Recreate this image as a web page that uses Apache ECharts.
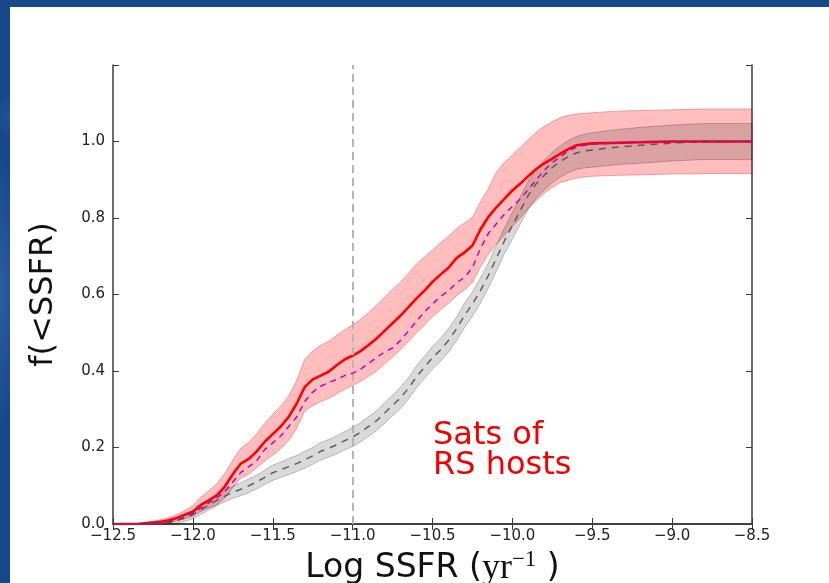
<!DOCTYPE html>
<html>
<head>
<meta charset="utf-8">
<script src="https://cdn.jsdelivr.net/npm/echarts@6/dist/echarts.min.js"></script>
<style>
  html, body { margin: 0; padding: 0; width: 829px; height: 583px; overflow: hidden; }
  body {
    position: relative;
    background:
      radial-gradient(ellipse 120px 40px at 8% 20%, rgba(90,140,210,0.45), transparent 70%),
      radial-gradient(ellipse 160px 50px at 35% 60%, rgba(20,50,110,0.6), transparent 70%),
      radial-gradient(ellipse 140px 40px at 62% 30%, rgba(80,130,200,0.4), transparent 70%),
      radial-gradient(ellipse 180px 60px at 88% 70%, rgba(15,45,100,0.55), transparent 70%),
      radial-gradient(ellipse 30px 200px at 0% 50%, rgba(70,120,190,0.45), transparent 70%),
      #17488a;
  }
  #panel { position: absolute; left: 10px; top: 7px; right: 0; bottom: 0; background: #ffffff; }
  #chart { position: absolute; left: 0; top: 0; width: 829px; height: 583px; }
</style>
</head>
<body>
<div id="panel"></div>
<div id="chart"></div>
<script>
// Cumulative fraction of galaxies below a given specific star-formation rate.
const logSSFR = [
  -12.5, -12.45, -12.4, -12.35, -12.3, -12.25, -12.2, -12.15, -12.1, -12.05,
  -12.0, -11.95, -11.9, -11.85, -11.8, -11.75, -11.7, -11.65, -11.6, -11.55,
  -11.5, -11.45, -11.4, -11.35, -11.3, -11.25, -11.2, -11.15, -11.1, -11.05,
  -11.0, -10.95, -10.9, -10.85, -10.8, -10.75, -10.7, -10.65, -10.6, -10.55,
  -10.5, -10.45, -10.4, -10.35, -10.3, -10.25, -10.2, -10.15, -10.1, -10.05,
  -10.0, -9.95, -9.9, -9.85, -9.8, -9.75, -9.7, -9.65, -9.6, -9.55,
  -9.5, -9.4, -9.3, -9.2, -9.1, -9.0, -8.9, -8.8, -8.7, -8.6, -8.5
];

// Satellites of red-sequence hosts (solid red) with its uncertainty band
const satsRS = [
  0, 0, 0, 0, 0.002, 0.004, 0.006, 0.01, 0.016, 0.024,
  0.032, 0.05, 0.062, 0.075, 0.098, 0.13, 0.158, 0.17, 0.19, 0.215,
  0.235, 0.255, 0.28, 0.315, 0.358, 0.378, 0.388, 0.398, 0.415, 0.43,
  0.44, 0.452, 0.468, 0.485, 0.505, 0.525, 0.545, 0.567, 0.59, 0.61,
  0.633, 0.652, 0.67, 0.695, 0.71, 0.728, 0.77, 0.803, 0.828, 0.85,
  0.872, 0.89, 0.91, 0.928, 0.943, 0.955, 0.968, 0.98, 0.99, 0.993,
  0.995, 0.996, 0.997, 0.998, 0.999, 1, 1, 1, 1, 1, 1
];
const satsRSHigh = [
  0, 0, 0, 0, 0.004, 0.007, 0.011, 0.017, 0.025, 0.035,
  0.048, 0.07, 0.087, 0.105, 0.132, 0.167, 0.198, 0.213, 0.236, 0.263,
  0.287, 0.308, 0.335, 0.375, 0.43, 0.452, 0.467, 0.478, 0.493, 0.508,
  0.52, 0.535, 0.553, 0.572, 0.593, 0.613, 0.633, 0.655, 0.68, 0.699,
  0.716, 0.735, 0.752, 0.772, 0.787, 0.802, 0.842, 0.877, 0.92, 0.945,
  0.965, 0.985, 1.005, 1.025, 1.04, 1.052, 1.062, 1.068, 1.072, 1.074,
  1.075, 1.078, 1.08, 1.081, 1.082, 1.083, 1.084, 1.085, 1.085, 1.085, 1.085
];
const satsRSLow = [
  0, 0, 0, 0, 0, 0.001, 0.002, 0.004, 0.008, 0.014,
  0.02, 0.033, 0.042, 0.05, 0.068, 0.095, 0.12, 0.13, 0.147, 0.165,
  0.18, 0.197, 0.218, 0.25, 0.295, 0.31, 0.32, 0.328, 0.34, 0.352,
  0.362, 0.373, 0.386, 0.4, 0.418, 0.436, 0.456, 0.477, 0.5, 0.52,
  0.542, 0.56, 0.577, 0.597, 0.612, 0.632, 0.672, 0.705, 0.732, 0.755,
  0.778, 0.8, 0.825, 0.846, 0.865, 0.88, 0.893, 0.899, 0.904, 0.907,
  0.909, 0.911, 0.912, 0.913, 0.914, 0.915, 0.915, 0.916, 0.916, 0.916, 0.916
];

// Comparison sample (magenta dashed)
const satsMatched = [
  0, 0, 0, 0, 0, 0, 0, 0.005, 0.01, 0.018,
  0.028, 0.042, 0.055, 0.068, 0.085, 0.11, 0.135, 0.15, 0.165, 0.195,
  0.212, 0.23, 0.255, 0.28, 0.32, 0.345, 0.36, 0.37, 0.378, 0.388,
  0.394, 0.405, 0.42, 0.435, 0.45, 0.46, 0.48, 0.505, 0.53, 0.555,
  0.575, 0.595, 0.61, 0.63, 0.645, 0.67, 0.72, 0.76, 0.785, 0.81,
  0.83, 0.85, 0.875, 0.9, 0.925, 0.945, 0.96, 0.975, 0.985, 0.99,
  0.993, 0.995, 0.997, 0.998, 0.999, 1, 1, 1, 1, 1, 1
];

// Reference sample (grey dashed) with its uncertainty band
const refSample = [
  0, 0, 0, 0, 0, 0.001, 0.002, 0.004, 0.009, 0.016,
  0.025, 0.037, 0.05, 0.062, 0.073, 0.083, 0.091, 0.1, 0.11, 0.122,
  0.134, 0.142, 0.15, 0.158, 0.168, 0.178, 0.19, 0.198, 0.207, 0.218,
  0.227, 0.24, 0.255, 0.27, 0.29, 0.31, 0.33, 0.355, 0.385, 0.41,
  0.435, 0.455, 0.48, 0.51, 0.545, 0.575, 0.61, 0.65, 0.695, 0.74,
  0.78, 0.82, 0.86, 0.89, 0.912, 0.932, 0.948, 0.96, 0.97, 0.975,
  0.978, 0.983, 0.987, 0.99, 0.993, 0.996, 0.998, 1, 1, 1, 1
];
const refSampleHigh = [
  0, 0, 0, 0, 0, 0.003, 0.005, 0.009, 0.016, 0.025,
  0.036, 0.049, 0.063, 0.076, 0.088, 0.099, 0.108, 0.118, 0.128, 0.141,
  0.154, 0.162, 0.171, 0.179, 0.19, 0.2, 0.213, 0.221, 0.231, 0.242,
  0.252, 0.265, 0.281, 0.296, 0.317, 0.337, 0.358, 0.383, 0.414, 0.439,
  0.465, 0.485, 0.511, 0.541, 0.577, 0.607, 0.643, 0.683, 0.729, 0.774,
  0.815, 0.856, 0.897, 0.928, 0.951, 0.972, 0.989, 1.002, 1.013, 1.019,
  1.023, 1.029, 1.033, 1.037, 1.04, 1.043, 1.045, 1.047, 1.047, 1.047, 1.047
];
const refSampleLow = [
  0, 0, 0, 0, 0, 0, 0, 0, 0.002, 0.007,
  0.014, 0.025, 0.037, 0.048, 0.058, 0.067, 0.074, 0.082, 0.092, 0.103,
  0.114, 0.122, 0.129, 0.137, 0.146, 0.156, 0.167, 0.175, 0.183, 0.194,
  0.202, 0.215, 0.229, 0.244, 0.263, 0.283, 0.302, 0.327, 0.356, 0.381,
  0.405, 0.425, 0.449, 0.479, 0.513, 0.543, 0.577, 0.617, 0.661, 0.706,
  0.745, 0.784, 0.823, 0.852, 0.873, 0.892, 0.907, 0.918, 0.927, 0.931,
  0.933, 0.937, 0.941, 0.943, 0.946, 0.949, 0.951, 0.953, 0.953, 0.953, 0.953
];

const xTicks = { min: -12.5, max: -8.5, step: 0.5 };
const yTicks = { min: 0, max: 1.2, step: 0.2, lastLabelled: 1.0 };
const cutLine = -11.0;

const FONT = 'DejaVu Sans';
const frameColor = '#3a3a3a';

function pairs(ys) { return logSSFR.map((x, i) => [x, ys[i]]); }
function fmt(v) {
  const s = Math.abs(v).toFixed(1);
  return v < 0 ? '\u2212' + s : s;
}

// Filled band between a low and a high curve, drawn as one polygon
function band(lo, hi, fill, stroke, z) {
  return {
    type: 'custom',
    coordinateSystem: 'cartesian2d',
    z: z,
    silent: true,
    data: [[logSSFR[0], lo[0]]],
    renderItem: function (params, api) {
      const pts = [];
      for (let i = 0; i < logSSFR.length; i++) pts.push(api.coord([logSSFR[i], hi[i]]));
      for (let i = logSSFR.length - 1; i >= 0; i--) pts.push(api.coord([logSSFR[i], lo[i]]));
      return {
        type: 'polygon',
        shape: { points: pts },
        style: { fill: fill, stroke: stroke, lineWidth: 1 }
      };
    }
  };
}

function axisBase(extra) {
  return Object.assign({
    type: 'value',
    axisLine: { show: true, lineStyle: { color: frameColor, width: 1.5 } },
    axisTick: { show: true, inside: true, length: 6, lineStyle: { color: frameColor, width: 1 } },
    splitLine: { show: false }
  }, extra);
}

const chart = echarts.init(document.getElementById('chart'), null, { renderer: 'canvas' });

chart.setOption({
  backgroundColor: 'transparent',
  animation: false,
  grid: { left: 113, top: 65, width: 639, height: 459, containLabel: false, outerBoundsMode: 'none' },
  xAxis: [
    axisBase({
      position: 'bottom',
      min: xTicks.min, max: xTicks.max, interval: xTicks.step,
      axisLabel: { formatter: fmt, fontFamily: FONT, fontSize: 15, color: '#222', margin: 5 },
      name: '{a|Log SSFR (}{m|yr}{s|\u22121}{a| )}',
      nameLocation: 'middle',
      nameGap: 21,
      nameTextStyle: {
        rich: {
          a: { fontFamily: FONT, fontSize: 33, color: '#111', lineHeight: 40 },
          m: { fontFamily: 'Liberation Serif', fontSize: 36, color: '#111', lineHeight: 40 },
          s: { fontFamily: 'Liberation Serif', fontSize: 23, color: '#111', verticalAlign: 'top', lineHeight: 16 }
        }
      }
    }),
    axisBase({
      position: 'top',
      min: xTicks.min, max: xTicks.max, interval: xTicks.step,
      axisLabel: { show: false }
    })
  ],
  yAxis: [
    axisBase({
      position: 'left',
      min: yTicks.min, max: yTicks.max, interval: yTicks.step,
      axisLabel: {
        formatter: v => (v > yTicks.lastLabelled + 1e-9 ? '' : fmt(v)),
        fontFamily: FONT, fontSize: 15, color: '#222', margin: 8
      },
      name: 'f(<SSFR)',
      nameLocation: 'middle',
      nameGap: 53,
      nameTextStyle: { fontFamily: FONT, fontSize: 32, color: '#111' }
    }),
    axisBase({
      position: 'right',
      min: yTicks.min, max: yTicks.max, interval: yTicks.step,
      axisLabel: { show: false }
    })
  ],
  series: [
    band(satsRSLow, satsRSHigh, 'rgba(255,0,0,0.26)', 'rgba(190,40,40,0.35)', 1),
    band(refSampleLow, refSampleHigh, 'rgba(0,0,0,0.15)', 'rgba(0,0,0,0.22)', 2),
    {
      name: 'Sats of RS hosts',
      type: 'line',
      z: 4,
      data: pairs(satsRS),
      showSymbol: false,
      lineStyle: { color: '#ff0000', width: 2.6 },
      markLine: {
        silent: true,
        symbol: 'none',
        label: { show: false },
        lineStyle: { color: '#b4b4b4', width: 2, type: [8, 5] },
        data: [{ xAxis: cutLine }]
      }
    },
    {
      name: 'matched',
      type: 'line',
      z: 5,
      data: pairs(satsMatched),
      showSymbol: false,
      lineStyle: { color: '#c000c0', width: 1.5, type: [6, 5] }
    },
    {
      name: 'reference',
      type: 'line',
      z: 6,
      data: pairs(refSample),
      showSymbol: false,
      lineStyle: { color: '#4a4a4a', width: 1.5, type: [7, 6], opacity: 0.85 }
    }
  ],
  graphic: [
    {
      type: 'text',
      left: 433,
      top: 420,
      z: 10,
      style: {
        text: 'Sats of\nRS hosts',
        fill: '#f00000',
        fontFamily: FONT,
        fontSize: 32,
        lineHeight: 30
      }
    }
  ]
});
</script>
</body>
</html>
